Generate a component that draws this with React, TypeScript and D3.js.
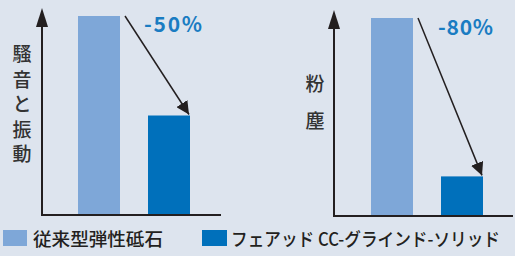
import React from "react";
import * as d3 from "d3";

const series = ["従来型弾性砥石", "フェアッド CC-グラインド-ソリッド"];
const noiseValues = [100, 50];
const dustValues = [100, 20];
const noiseLabel = ["騷", "音", "と", "振", "動"];
const dustLabel = ["粉", "塵"];
const noiseChange = "-50%";
const dustChange = "-80%";

const colors = ["#7ea7d8", "#0070bb"];
const BG = "#dde4ee";
const AX = "#231f20";
const FONT = "'Noto Sans CJK JP', 'Noto Sans', sans-serif";

type PanelProps = {
  x0: number;
  x1: number;
  yTop: number;
  yBase: number;
  yMaxPix: number;
  bandStart: number;
  bandEnd: number;
  values: number[];
  label: string[];
  labelX: number;
  labelYs: number[];
  change: string;
  changeX: number;
  changeW: number;
  changeY: number;
  id: string;
};

function Panel(p: PanelProps) {
  const x = d3
    .scaleBand<number>()
    .domain(p.values.map((_, i) => i))
    .range([p.bandStart, p.bandEnd])
    .paddingInner(0.4)
    .paddingOuter(0);
  const y = d3.scaleLinear().domain([0, 100]).range([p.yBase, p.yMaxPix]);
  const bw = x.bandwidth();
  const ax1 = x(0)! + bw + 5;
  const ay1 = y(p.values[0]);
  const ax2 = x(1)! + bw - 1;
  const ay2 = y(p.values[1]) - 1;
  return (
    <g>
      {p.values.map((v, i) => (
        <rect key={i} x={x(i)} y={y(v)} width={bw} height={p.yBase - y(v)} fill={colors[i]} />
      ))}
      <line x1={p.x0} y1={p.yBase} x2={p.x0} y2={p.yTop + 10} stroke={AX} strokeWidth={2} />
      <path d={`M${p.x0},${p.yTop} L${p.x0 - 6},${p.yTop + 19} L${p.x0 + 6},${p.yTop + 19} Z`} fill={AX} />
      <line x1={p.x0 - 1} y1={p.yBase} x2={p.x1} y2={p.yBase} stroke={AX} strokeWidth={2} />
      <line x1={ax1} y1={ay1} x2={ax2} y2={ay2} stroke={AX} strokeWidth={1.5} markerEnd={`url(#arr-${p.id})`} />
      <defs>
        <marker id={`arr-${p.id}`} viewBox="0 0 10 10" refX="10" refY="5" markerWidth="13" markerHeight="13" markerUnits="userSpaceOnUse" orient="auto">
          <path d="M0,0 L10,5 L0,10 Z" fill={AX} />
        </marker>
      </defs>
      {p.label.map((c, i) => (
        <text key={i} x={p.labelX} y={p.labelYs[i]} textAnchor="middle" dominantBaseline="central" fontSize={19} fontWeight={500} fill="#333" fontFamily={FONT}>
          {c}
        </text>
      ))}
      <text x={p.changeX} y={p.changeY} fontSize={21} fontWeight="bold" fill="#1a7cc2" fontFamily={FONT} textLength={p.changeW} lengthAdjust="spacing">
        {p.change}
      </text>
    </g>
  );
}

export default function App() {
  return (
    <svg width={515} height={256} style={{ position: "absolute", left: 0, top: 0 }}>
      <rect x={0} y={0} width={515} height={256} fill={BG} />
      <Panel
        id="a"
        x0={42}
        x1={221}
        yTop={8}
        yBase={215}
        yMaxPix={16}
        bandStart={78}
        bandEnd={190}
        values={noiseValues}
        label={noiseLabel}
        labelX={22}
        labelYs={[52, 78, 102, 128, 152]}
        change={noiseChange}
        changeX={144}
        changeW={58}
        changeY={32}
      />
      <Panel
        id="b"
        x0={334}
        x1={513}
        yTop={10}
        yBase={216}
        yMaxPix={18}
        bandStart={371}
        bandEnd={483}
        values={dustValues}
        label={dustLabel}
        labelX={315}
        labelYs={[82, 119]}
        change={dustChange}
        changeX={438}
        changeW={55}
        changeY={35}
      />
      <rect x={3} y={230} width={24} height={16} fill={colors[0]} />
      <text x={33} y={238} dominantBaseline="central" fontSize={18} fontWeight={500} fill="#231f20" fontFamily={FONT} textLength={130} lengthAdjust="spacingAndGlyphs">
        {series[0]}
      </text>
      <rect x={202} y={230} width={25} height={16} fill={colors[1]} />
      <text x={231} y={238} dominantBaseline="central" fontSize={18} fontWeight={500} fill="#231f20" fontFamily={FONT} textLength={269} lengthAdjust="spacingAndGlyphs">
        {series[1]}
      </text>
    </svg>
  );
}
